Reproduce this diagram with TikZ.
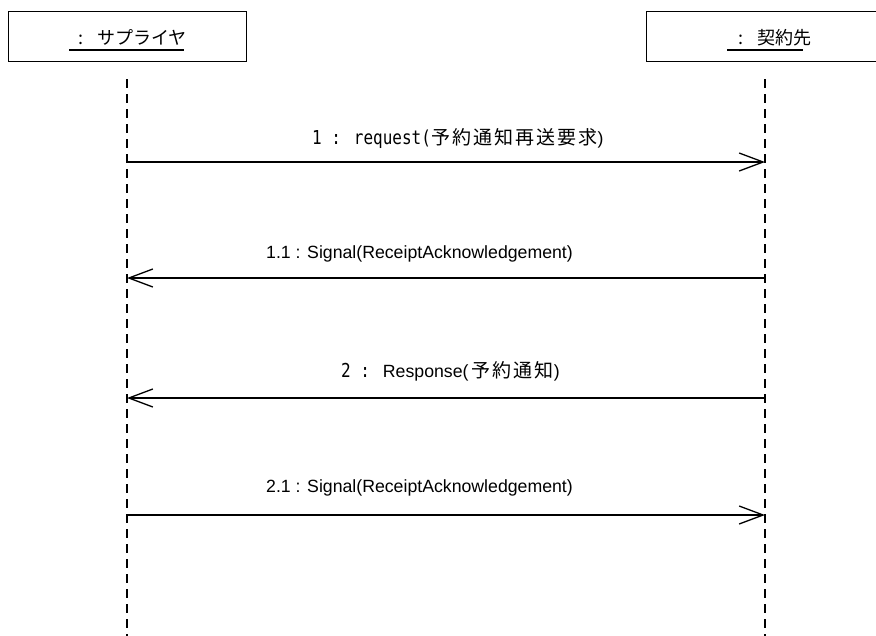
\documentclass[tikz,border=0pt]{standalone}
\usepackage{fontspec}
\usepackage{graphicx}
\setmainfont{Liberation Sans}
\newfontfamily\jp{Noto Sans CJK JP}
\newfontfamily\jpw[LetterSpace=11]{Noto Sans CJK JP}
\newfontfamily\mono{DejaVu Sans Mono}
\newcommand{\halfw}[1]{\scalebox{1}[1.2]{\mono\fontsize{16}{20}\selectfont #1}}
\usetikzlibrary{arrows.meta}
\begin{document}
\begin{tikzpicture}[x=1pt,y=-1pt,
  objbox/.style={draw, line width=1.3pt, minimum width=238pt, minimum height=50pt, anchor=north west, inner sep=0pt},
  objname/.style={anchor=base west, inner sep=0pt, font=\jp\fontsize{18}{20}\selectfont},
  uline/.style={line width=1.3pt},
  life/.style={line width=1.3pt, dash pattern=on 9pt off 6pt},
  msg/.style={line width=1.3pt, -{Straight Barb[length=24pt,width=18pt]}},
  lbl/.style={anchor=base west, inner sep=0pt, font=\fontsize{17.7}{20}\selectfont}]
\useasboundingbox (0,0) rectangle (876,635);
\clip (0,0) rectangle (876,635);
% objects
\node[objbox] (sup) at (8,11) {};
\node[objbox] (con) at (646,11) {};
\node[objname] (supname) at (78,44) {:\hspace{14pt}サプライヤ};
\node[objname] (conname) at (738,44) {:\hspace{14pt}契約先};
\coordinate (supu1) at (69,50);
\coordinate (supu2) at (184,50);
\coordinate (conu1) at (727,50);
\coordinate (conu2) at (803,50);
\draw[uline] (supu1) -- (supu2);
\draw[uline] (conu1) -- (conu2);
% lifelines
\coordinate (supTop) at (127,79);
\coordinate (supBot) at (127,636);
\coordinate (conTop) at (765,79);
\coordinate (conBot) at (765,636);
\draw[life] (supTop) -- (supBot);
\draw[life] (conTop) -- (conBot);
% message anchors
\coordinate (L1) at (127,162); \coordinate (R1) at (765,162);
\coordinate (L2) at (127,278); \coordinate (R2) at (765,278);
\coordinate (L3) at (127,398); \coordinate (R3) at (765,398);
\coordinate (L4) at (127,515); \coordinate (R4) at (765,515);
\draw[msg] (L1) -- (R1);
\draw[msg] (R2) -- (L2);
\draw[msg] (R3) -- (L3);
\draw[msg] (L4) -- (R4);
% labels
\node[lbl] (m1) at (312,144) {\halfw{1 : request(}{\jpw\fontsize{19}{20}\selectfont 予約通知再送要求}{)}};
\node[lbl] (m2) at (266,258) {1.1 : Signal(ReceiptAcknowledgement)};
\node[lbl] (m3) at (341,377) {\halfw{2 : }Response(\hspace{3pt}{\jpw\fontsize{19}{20}\selectfont 予約通知}{)}};
\node[lbl] (m4) at (266,492) {2.1 : Signal(ReceiptAcknowledgement)};
\end{tikzpicture}
\end{document}
